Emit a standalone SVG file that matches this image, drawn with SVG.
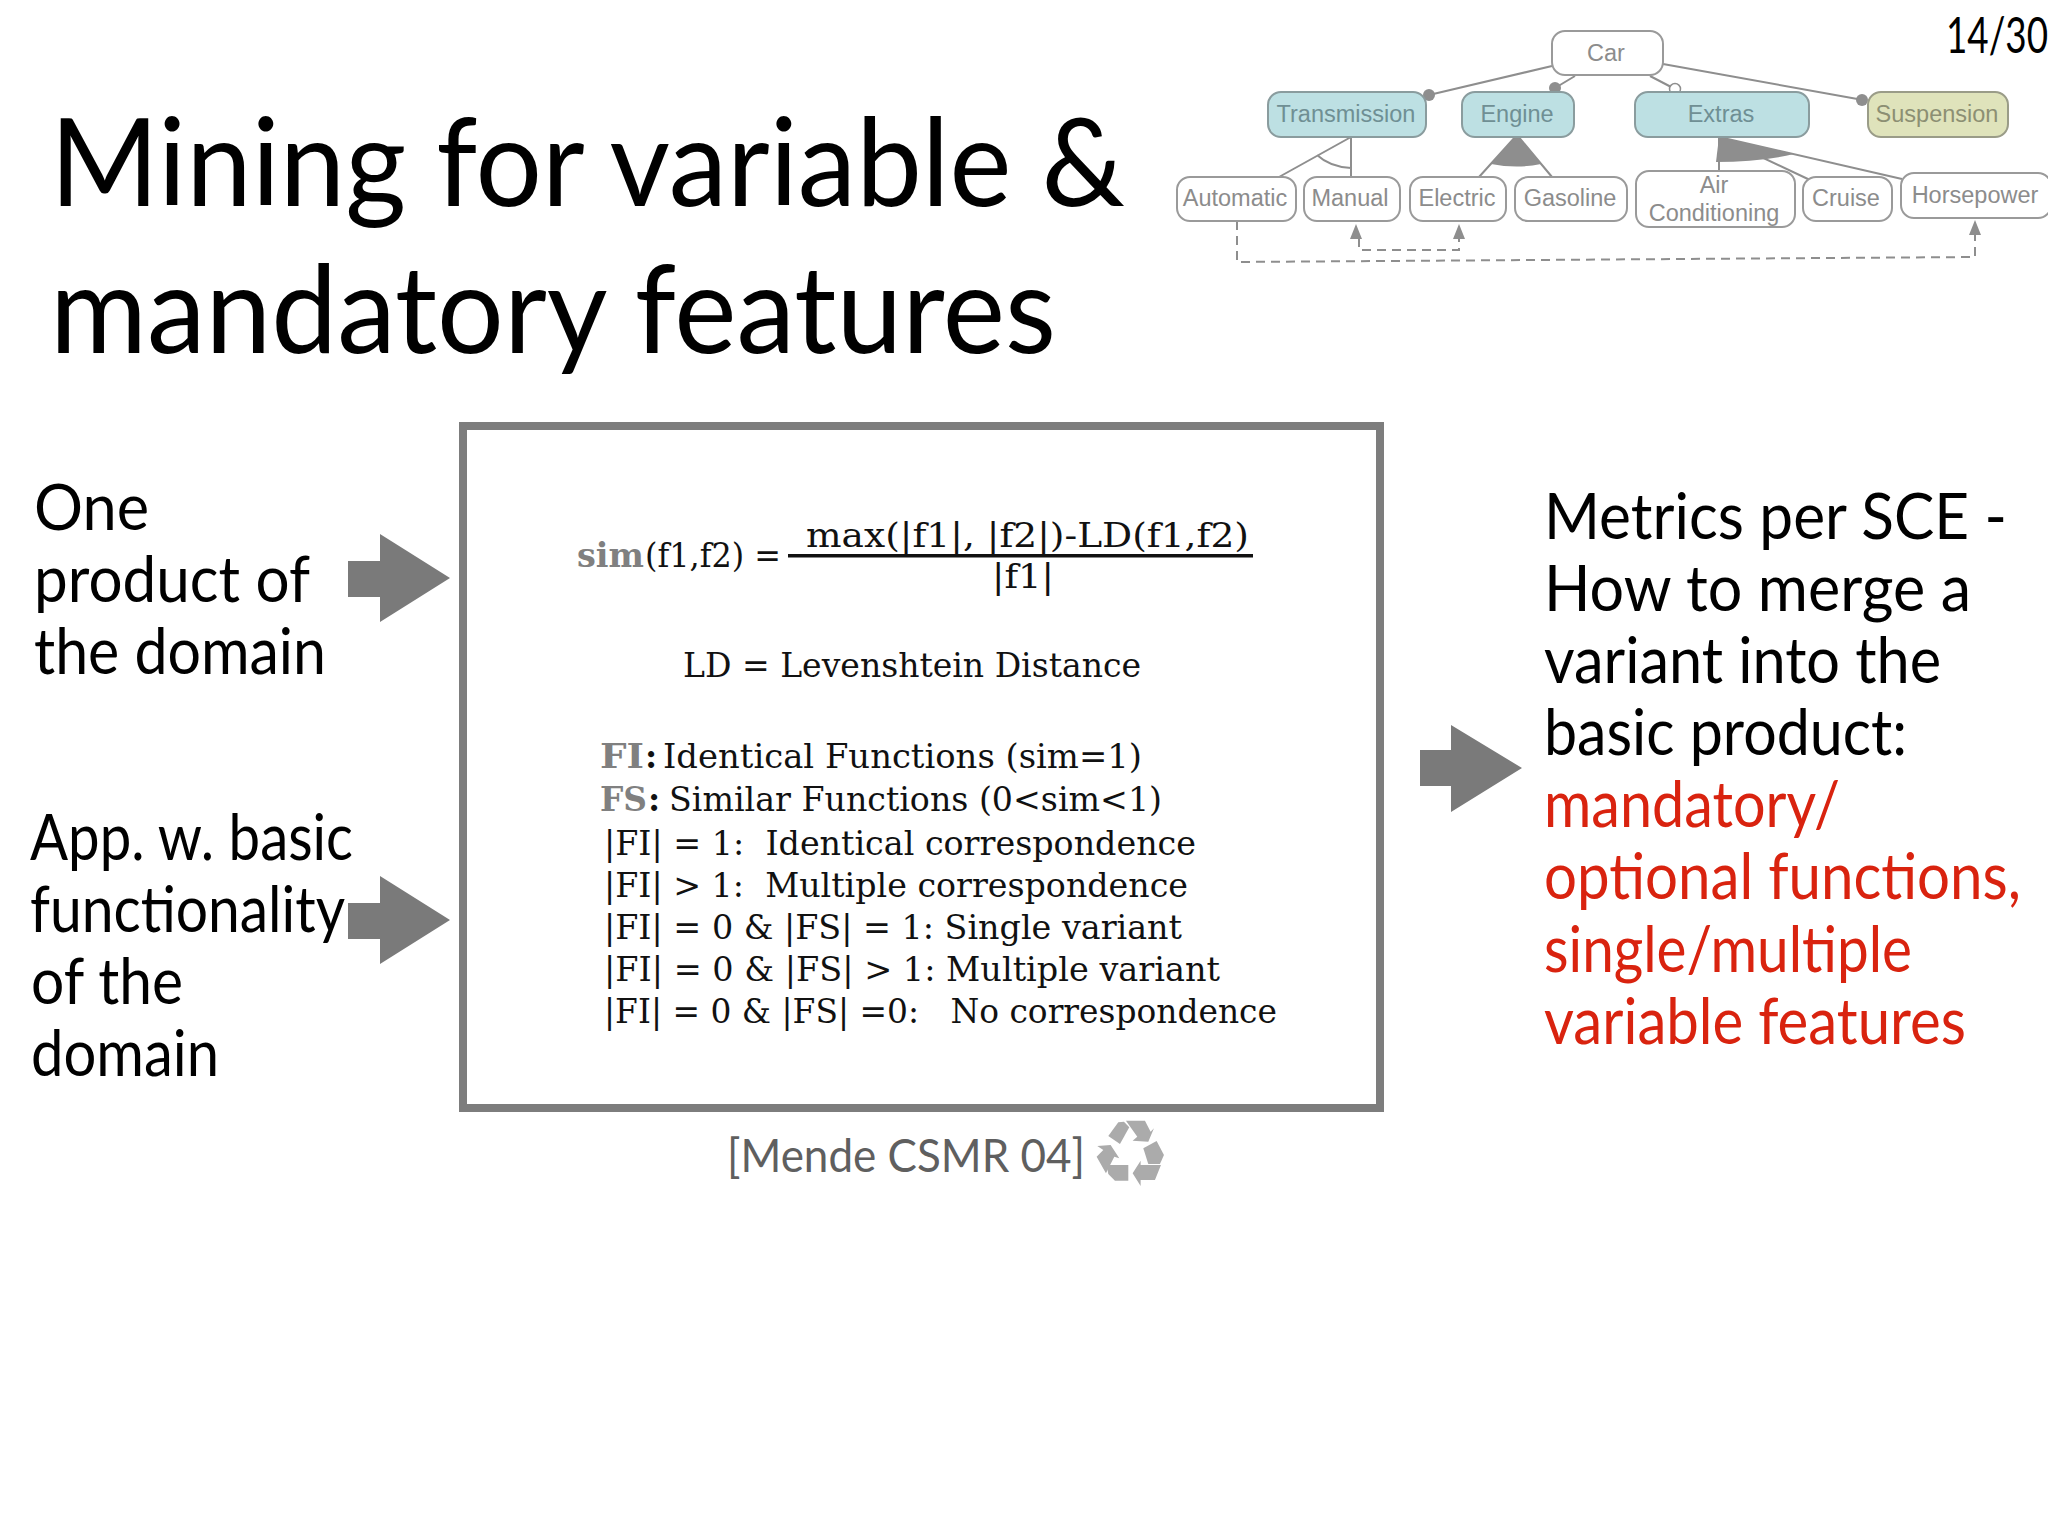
<svg xmlns="http://www.w3.org/2000/svg" width="2048" height="1536" viewBox="0 0 2048 1536">
<style>
.g{font-family:"Lato","Open Sans",sans-serif;fill:#000;white-space:pre}
.t{font-size:122px}
.b{font-size:63px}
.r{fill:#d9230f}
.s{font-family:"DejaVu Serif","Liberation Serif",serif;font-size:33px;fill:#111;white-space:pre}
.k{font-weight:bold;fill:#808080}
.c{font-weight:bold}
.n rect{fill:#fff;stroke:#9a9a9a;stroke-width:2}
.n text{font-family:"Liberation Sans",Arial,sans-serif;font-size:23.5px;fill:#8c8c8c;text-anchor:middle}
.n.a rect{fill:#bde0e3;stroke:#8a9c9e}
.n.a text{fill:#6f8f94}
.n.y rect{fill:#dfe3bb;stroke:#9a9c88}
.n.y text{fill:#8c8f73}
.l{fill:none;stroke:#8e8e8e;stroke-width:2}
.d{fill:none;stroke:#8e8e8e;stroke-width:2;stroke-dasharray:9 6}
.f{fill:#8e8e8e;stroke:none}
.ar{fill:#7a7a7a}
</style>
<rect width="2048" height="1536" fill="#fff"/>
<g id="title">
<text class="g t" x="50" y="206" textLength="1075" lengthAdjust="spacingAndGlyphs">Mining for variable &amp;</text>
<text class="g t" x="50" y="353" textLength="1006" lengthAdjust="spacingAndGlyphs">mandatory features</text>
</g>
<text id="page" class="g" font-size="51" x="1946" y="53" textLength="102" lengthAdjust="spacingAndGlyphs">14/30</text>
<g id="connectors">
<path class="l" d="M1552 66L1429 95M1575 76L1555 88M1650 76L1675 89M1663 64L1863 100"/>
<circle class="f" cx="1429" cy="95" r="6"/><circle class="f" cx="1555" cy="88" r="6"/><circle class="f" cx="1862" cy="100" r="6"/>
<circle cx="1675" cy="89" r="5.5" fill="#fff" stroke="#8e8e8e" stroke-width="1.5"/>
<path class="l" d="M1351 137L1279 177M1351 137V177M1317 155Q1330 167 1351 168"/>
<path class="l" d="M1517 135L1479 177M1517 135L1552 177M1719 137V171M1719 137L1810 180M1719 137L1902 179"/>
<path class="f" d="M1517 135L1491 164Q1517 169 1541 164Z"/>
<path class="f" d="M1719 137L1716 162Q1760 162 1794 154Z"/>
<path class="d" d="M1237 221V262L1975 257V233M1359 238V250H1459V238"/>
<path class="f" d="M1975 220L1969 235H1981ZM1356 224L1350 239H1362ZM1459 224L1453 239H1465Z"/>
</g>
<g id="n-car" class="n"><rect x="1552" y="31" width="111" height="44" rx="13"/><text x="1606" y="61">Car</text></g>
<g id="n-transmission" class="n a"><rect x="1268" y="92" width="158" height="45" rx="13"/><text x="1346" y="122">Transmission</text></g>
<g id="n-engine" class="n a"><rect x="1462" y="92" width="112" height="45" rx="13"/><text x="1517" y="122">Engine</text></g>
<g id="n-extras" class="n a"><rect x="1635" y="92" width="174" height="45" rx="13"/><text x="1721" y="122">Extras</text></g>
<g id="n-suspension" class="n y"><rect x="1868" y="92" width="140" height="45" rx="13"/><text x="1937" y="122">Suspension</text></g>
<g id="n-automatic" class="n"><rect x="1177" y="177" width="119" height="44" rx="13"/><text x="1235" y="206">Automatic</text></g>
<g id="n-manual" class="n"><rect x="1304" y="177" width="96" height="44" rx="13"/><text x="1350" y="206">Manual</text></g>
<g id="n-electric" class="n"><rect x="1410" y="177" width="96" height="44" rx="13"/><text x="1457" y="206">Electric</text></g>
<g id="n-gasoline" class="n"><rect x="1515" y="177" width="112" height="44" rx="13"/><text x="1570" y="206">Gasoline</text></g>
<g id="n-air" class="n"><rect x="1636" y="171" width="159" height="56" rx="13"/><text x="1714" y="193">Air</text><text x="1714" y="221">Conditioning</text></g>
<g id="n-cruise" class="n"><rect x="1803" y="177" width="89" height="44" rx="13"/><text x="1846" y="206">Cruise</text></g>
<g id="n-horsepower" class="n"><rect x="1901" y="173" width="150" height="45" rx="13"/><text x="1975" y="203">Horsepower</text></g>
<g id="left-text">
<text class="g b" x="34" y="530" textLength="115" lengthAdjust="spacingAndGlyphs">One</text>
<text class="g b" x="34" y="602" textLength="276" lengthAdjust="spacingAndGlyphs">product of</text>
<text class="g b" x="34" y="674" textLength="292" lengthAdjust="spacingAndGlyphs">the domain</text>
<text class="g b" x="30" y="860" textLength="323" lengthAdjust="spacingAndGlyphs">App. w. basic</text>
<text class="g b" x="30" y="932" textLength="315" lengthAdjust="spacingAndGlyphs">functionality</text>
<text class="g b" x="31" y="1004" textLength="152" lengthAdjust="spacingAndGlyphs">of the</text>
<text class="g b" x="31" y="1076" textLength="188" lengthAdjust="spacingAndGlyphs">domain</text>
</g>
<g id="arrows">
<path class="ar" d="M348 561H380V534L450 578L380 622V597H348Z"/>
<path class="ar" d="M348 903H380V876L450 920L380 964V939H348Z"/>
<path class="ar" d="M1420 750H1451V725L1522 768L1451 812V786H1420Z"/>
</g>
<g id="formula-box">
<rect x="463" y="426" width="917" height="682" fill="#fff" stroke="#7d7d7d" stroke-width="8"/>
<text class="s k" x="577" y="567" textLength="67" lengthAdjust="spacingAndGlyphs">sim</text>
<text class="s" x="645" y="567" textLength="136" lengthAdjust="spacingAndGlyphs">(f1,f2) =</text>
<text class="s" x="806" y="547" textLength="443" lengthAdjust="spacingAndGlyphs">max(|f1|, |f2|)-LD(f1,f2)</text>
<rect x="788" y="554" width="465" height="3.5" fill="#111"/>
<text class="s" x="992" y="588" textLength="62" lengthAdjust="spacingAndGlyphs">|f1|</text>
<text class="s" x="683" y="677" textLength="458" lengthAdjust="spacingAndGlyphs">LD = Levenshtein Distance</text>
<text class="s k" x="600" y="768" textLength="44" lengthAdjust="spacingAndGlyphs">FI</text><text class="s c" x="645" y="768">:</text>
<text class="s" x="663" y="768" textLength="479" lengthAdjust="spacingAndGlyphs">Identical Functions (sim=1)</text>
<text class="s k" x="600" y="811" textLength="47" lengthAdjust="spacingAndGlyphs">FS</text><text class="s c" x="648" y="811">:</text>
<text class="s" x="669" y="811" textLength="493" lengthAdjust="spacingAndGlyphs">Similar Functions (0&lt;sim&lt;1)</text>
<text class="s" x="604" y="855" textLength="592" lengthAdjust="spacingAndGlyphs">|FI| = 1:  Identical correspondence</text>
<text class="s" x="604" y="897" textLength="584" lengthAdjust="spacingAndGlyphs">|FI| &gt; 1:  Multiple correspondence</text>
<text class="s" x="604" y="939" textLength="578" lengthAdjust="spacingAndGlyphs">|FI| = 0 &amp; |FS| = 1: Single variant</text>
<text class="s" x="604" y="981" textLength="616" lengthAdjust="spacingAndGlyphs">|FI| = 0 &amp; |FS| &gt; 1: Multiple variant</text>
<text class="s" x="604" y="1023" textLength="673" lengthAdjust="spacingAndGlyphs">|FI| = 0 &amp; |FS| =0:   No correspondence</text>
</g>
<g id="citation">
<text class="g" font-size="47" x="727" y="1172" style="fill:#5f5f5f" textLength="358" lengthAdjust="spacingAndGlyphs">[Mende CSMR 04]</text>
<g id="recycle" transform="translate(700 1090) scale(.3333)" fill="#ababab">
<path d="M1225 138L1255 97L1272 95L1288 112L1260 162Z"/>
<path d="M1278 92H1335L1352 125L1362 115L1345 155L1298 152L1312 140Z"/>
<path d="M1330 175L1370 153L1392 195L1380 222L1345 222Z"/>
<path d="M1383 225L1365 270H1322V288L1298 250L1322 212V225Z"/>
<path d="M1220 225H1285V272H1245L1225 252Z"/>
<path d="M1192 168L1232 165L1258 205L1243 200L1218 250L1190 200L1210 180Z"/>
</g>
</g>
<g id="right-text">
<text class="g b" x="1544" y="539" textLength="463" lengthAdjust="spacingAndGlyphs">Metrics per SCE -</text>
<text class="g b" x="1544" y="611" textLength="427" lengthAdjust="spacingAndGlyphs">How to merge a</text>
<text class="g b" x="1544" y="683" textLength="397" lengthAdjust="spacingAndGlyphs">variant into the</text>
<text class="g b" x="1544" y="755" textLength="363" lengthAdjust="spacingAndGlyphs">basic product:</text>
<text class="g b r" x="1544" y="827" textLength="296" lengthAdjust="spacingAndGlyphs">mandatory/</text>
<text class="g b r" x="1544" y="899" textLength="477" lengthAdjust="spacingAndGlyphs">optional functions,</text>
<text class="g b r" x="1544" y="972" textLength="368" lengthAdjust="spacingAndGlyphs">single/multiple</text>
<text class="g b r" x="1544" y="1044" textLength="422" lengthAdjust="spacingAndGlyphs">variable features</text>
</g>
</svg>
